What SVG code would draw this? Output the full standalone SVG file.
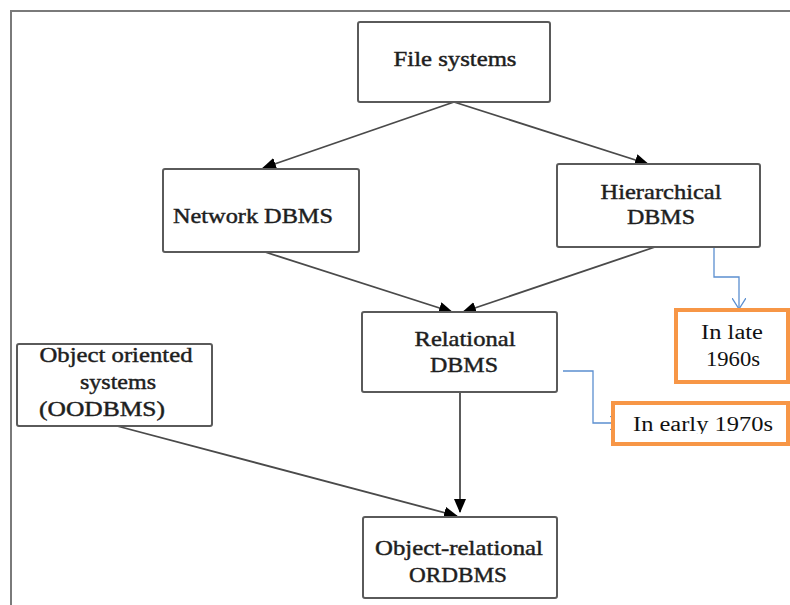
<svg xmlns="http://www.w3.org/2000/svg" width="790" height="605" viewBox="0 0 790 605">
<style>
.box{fill:#fff;stroke:#5a5a5a;stroke-width:2}
.obox{fill:#fff;stroke:#f79646;stroke-width:4}
.t{font-family:"Liberation Serif","Times New Roman",serif;font-size:22px;fill:#1e1e1e;stroke:#1e1e1e;stroke-width:0.45;text-anchor:middle}
.ot{font-family:"Liberation Serif","Times New Roman",serif;font-size:20px;fill:#111;text-anchor:middle}
.c{fill:none;stroke:#4a4a4a;stroke-width:1.8}
.b{fill:none;stroke:#5b8fd0;stroke-width:1.3}
</style>
<defs>
<marker id="ah" markerWidth="14" markerHeight="12" refX="13" refY="6" orient="auto" markerUnits="userSpaceOnUse">
<path d="M0,0 L14,6 L0,12 Z" fill="#000"/>
</marker>
<marker id="oh" markerWidth="12" markerHeight="14" refX="11" refY="7" orient="auto" markerUnits="userSpaceOnUse">
<path d="M0,0 L11,7 L0,14" fill="none" stroke="#5b8fd0" stroke-width="1.3"/>
</marker>
<clipPath id="clipEarly"><rect x="615" y="405" width="175" height="29"/></clipPath>
</defs>
<rect width="790" height="605" fill="#fff"/>
<path d="M11,605 L11,11 L790,11" fill="none" stroke="#7a7a7a" stroke-width="2"/>
<g id="connectors">
<line class="c" x1="454" y1="102" x2="263" y2="168" marker-end="url(#ah)"/>
<line class="c" x1="454" y1="102" x2="648" y2="164" marker-end="url(#ah)"/>
<line class="c" x1="265" y1="252" x2="452" y2="312" marker-end="url(#ah)"/>
<line class="c" x1="655" y1="247" x2="463" y2="312" marker-end="url(#ah)"/>
<line class="c" x1="460" y1="392" x2="460" y2="512" marker-end="url(#ah)"/>
<line class="c" x1="117" y1="426" x2="457" y2="516" marker-end="url(#ah)"/>
<polyline class="b" points="714,243 714,277 739,277 739,309" marker-end="url(#oh)"/>
<polyline class="b" points="563,371 593,371 593,423 621,423" marker-end="url(#oh)"/>
</g>
<g id="file-systems">
<rect class="box" x="358" y="22" width="192" height="80" rx="2"/>
<text class="t" x="455" y="66" textLength="123" lengthAdjust="spacingAndGlyphs">File systems</text>
</g>
<g id="network-dbms">
<rect class="box" x="163" y="169" width="196" height="83" rx="2"/>
<text class="t" x="253" y="223" textLength="160" lengthAdjust="spacingAndGlyphs">Network DBMS</text>
</g>
<g id="hierarchical-dbms">
<rect class="box" x="557" y="164" width="203" height="83" rx="2"/>
<text class="t" x="661" y="199" textLength="121" lengthAdjust="spacingAndGlyphs">Hierarchical</text>
<text class="t" x="661" y="224" textLength="68" lengthAdjust="spacingAndGlyphs">DBMS</text>
</g>
<g id="relational-dbms">
<rect class="box" x="362" y="312" width="195" height="80" rx="2"/>
<text class="t" x="465" y="346" textLength="101" lengthAdjust="spacingAndGlyphs">Relational</text>
<text class="t" x="464" y="372" textLength="68" lengthAdjust="spacingAndGlyphs">DBMS</text>
</g>
<g id="oodbms">
<rect class="box" x="17" y="344" width="195" height="82" rx="2"/>
<text class="t" x="116" y="362" textLength="153" lengthAdjust="spacingAndGlyphs">Object oriented</text>
<text class="t" x="118" y="389" textLength="76" lengthAdjust="spacingAndGlyphs">systems</text>
<text class="t" x="102" y="416" textLength="126" lengthAdjust="spacingAndGlyphs">(OODBMS)</text>
</g>
<g id="ordbms">
<rect class="box" x="363" y="517" width="194" height="81" rx="2"/>
<text class="t" x="459" y="555" textLength="168" lengthAdjust="spacingAndGlyphs">Object-relational</text>
<text class="t" x="458" y="582" textLength="98" lengthAdjust="spacingAndGlyphs">ORDBMS</text>
</g>
<g id="late-1960s">
<rect class="obox" x="676" y="310" width="112" height="72"/>
<text class="ot" x="732" y="339" textLength="62" lengthAdjust="spacingAndGlyphs">In late</text>
<text class="ot" x="733" y="366" textLength="54" lengthAdjust="spacingAndGlyphs">1960s</text>
</g>
<g id="early-1970s">
<rect class="obox" x="613" y="403" width="175" height="41"/>
<text class="ot" x="703" y="431" textLength="140" lengthAdjust="spacingAndGlyphs" clip-path="url(#clipEarly)">In early 1970s</text>
</g>
</svg>
